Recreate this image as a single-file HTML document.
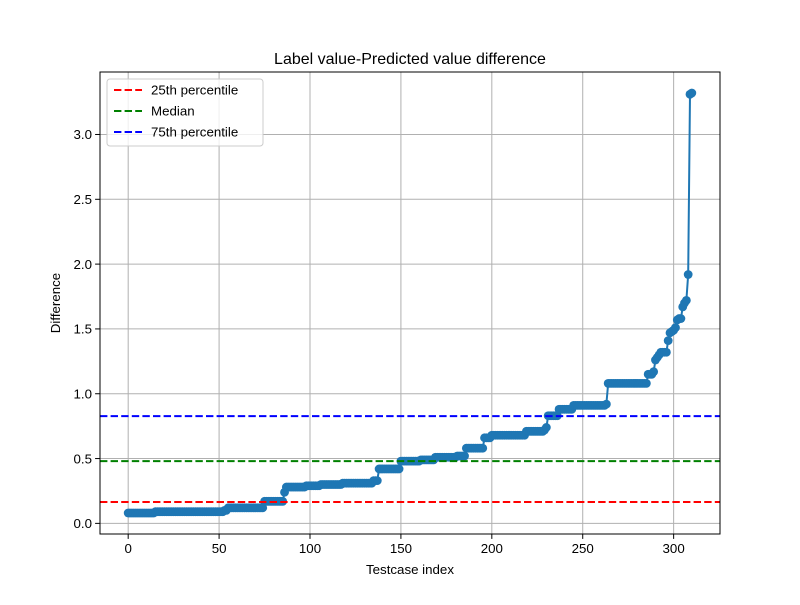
<!DOCTYPE html>
<html><head><meta charset="utf-8"><style>
body{margin:0;background:#fff}
svg text{font-family:"Liberation Sans","DejaVu Sans",sans-serif;fill:#000}
</style></head><body>
<svg id="chart" width="800" height="600" xmlns="http://www.w3.org/2000/svg"></svg>
<script>
const levels=[0.08,0.09,0.10,0.12,0.17,0.24,0.28,0.29,0.30,0.31,0.33,0.42,0.48,0.49,0.51,0.52,0.58,0.66,0.68,0.71,0.72,0.74,0.83,0.88,0.91,0.92,1.08,1.15,1.17,1.26,1.28,1.30,1.32,1.41,1.47,1.48,1.49,1.51,1.57,1.58,1.67,1.70,1.72,1.92,3.31,3.32];
const counts=[15,38,2,20,11,1,11,8,12,17,3,12,11,8,12,5,10,4,19,10,1,1,6,8,18,1,22,3,1,1,1,1,4,1,1,1,1,1,1,2,1,1,1,1,1,1];
const percentiles=[0.165,0.48,0.827];
const percentileLabels=["25th percentile","Median","75th percentile"];
const percentileColors=["#ff0000","#008000","#0000ff"];
const xTicks=[0,50,100,150,200,250,300];
const yTicks=[0.0,0.5,1.0,1.5,2.0,2.5,3.0];

const svg=document.getElementById('chart');
const NS='http://www.w3.org/2000/svg';
function mk(t,a,p){const e=document.createElementNS(NS,t);for(const k in a)e.setAttribute(k,a[k]);(p||svg).appendChild(e);return e;}
const values=[];levels.forEach((v,i)=>{for(let j=0;j<counts[i];j++)values.push(v);});
const L=100,R=720,T=72,B=534;
const n=values.length;
const xmin=-(n-1)*0.05,xmax=(n-1)*1.05;
const vmin=Math.min(...values),vmax=Math.max(...values),vr=vmax-vmin;
const ymin=vmin-vr*0.05,ymax=vmax+vr*0.05;
const X=v=>L+(v-xmin)/(xmax-xmin)*(R-L);
const Y=v=>B-(v-ymin)/(ymax-ymin)*(B-T);

const grid=mk('g',{});


xTicks.forEach(t=>{
 mk('line',{x1:X(t),x2:X(t),y1:T,y2:B,stroke:'#b0b0b0','stroke-width':1},grid);
 mk('line',{x1:X(t),x2:X(t),y1:B,y2:B+4.9,stroke:'#000','stroke-width':1});
 const tx=mk('text',{x:X(t),y:B+19,'text-anchor':'middle','font-size':13.3});tx.textContent=t;
 
 
});
yTicks.forEach(t=>{
 mk('line',{x1:L,x2:R,y1:Y(t),y2:Y(t),stroke:'#b0b0b0','stroke-width':1},grid);
 mk('line',{x1:L-4.9,x2:L,y1:Y(t),y2:Y(t),stroke:'#000','stroke-width':1});
 const tx=mk('text',{x:L-8,y:Y(t)+4.7,'text-anchor':'end','font-size':13.3});tx.textContent=t.toFixed(1);
 
 
});
let d='';values.forEach((v,i)=>{d+=(i?'L':'M')+X(i).toFixed(2)+' '+Y(v).toFixed(2);});
const line=mk('path',{d:d,fill:'none',stroke:'#1f77b4','stroke-width':2});


const pts=mk('g',{fill:'#1f77b4'});


values.forEach((v,i)=>{const c=mk('circle',{cx:X(i),cy:Y(v),r:4.4},pts);
 
 });
percentiles.forEach((p,i)=>{const l=mk('line',{x1:L,x2:R,y1:Y(p),y2:Y(p),stroke:percentileColors[i],'stroke-width':2,'stroke-dasharray':'7.4 3.2'});
 
 });
mk('rect',{x:L,y:T,width:R-L,height:B-T,fill:'none',stroke:'#000','stroke-width':1});
const title=mk('text',{x:(L+R)/2,y:64,'text-anchor':'middle','font-size':16});title.textContent='Label value-Predicted value difference';


const xl=mk('text',{x:(L+R)/2,y:574,'text-anchor':'middle','font-size':13.3});xl.textContent='Testcase index';


const yl=mk('text',{x:60,y:(T+B)/2,'text-anchor':'middle','font-size':13.3,transform:`rotate(-90 60 ${(T+B)/2})`});yl.textContent='Difference';


const lg=mk('g',{});


mk('rect',{x:107,y:79,width:156,height:67,rx:3,fill:'#fff','fill-opacity':0.8,stroke:'#ccc'},lg);
percentileLabels.forEach((s,i)=>{const y=90+i*21;
 mk('line',{x1:114,x2:142,y1:y,y2:y,stroke:percentileColors[i],'stroke-width':2,'stroke-dasharray':'7.4 3.2'},lg);
 const t=mk('text',{x:151,y:y+4.7,'font-size':13.3},lg);t.textContent=s;
 
 });
</script>
</body></html>
